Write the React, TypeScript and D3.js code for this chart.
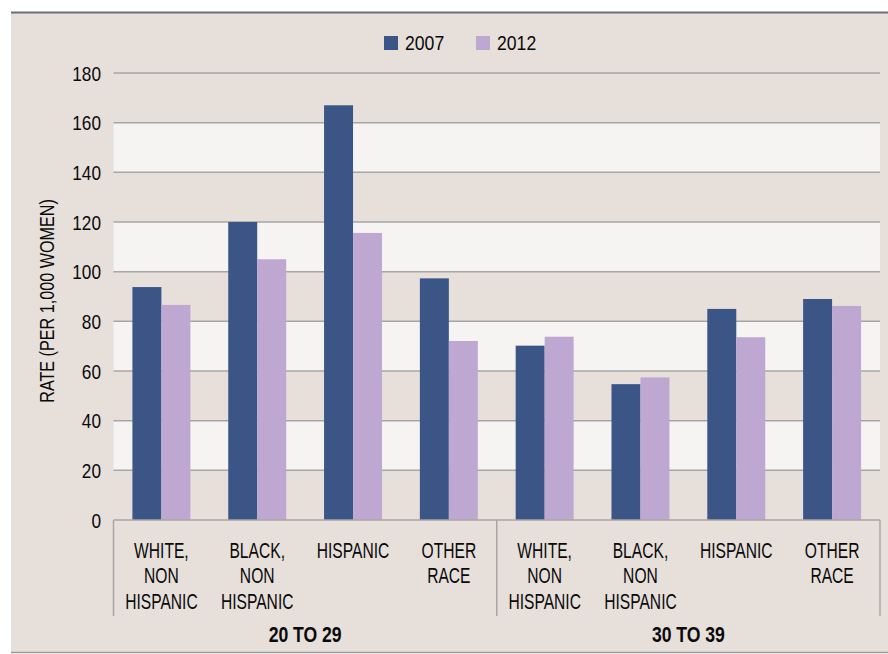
import React from "react";
import * as d3 from "d3";

const groups = ["20 TO 29", "30 TO 39"];
const races = [
  ["WHITE,", "NON", "HISPANIC"],
  ["BLACK,", "NON", "HISPANIC"],
  ["HISPANIC"],
  ["OTHER", "RACE"],
];
const series = ["2007", "2012"];
const values2007 = [93.8, 120, 167, 97.3, 70.2, 54.7, 85, 89];
const values2012 = [86.6, 105, 115.6, 72.1, 73.8, 57.4, 73.6, 86.2];
const yTicks = [0, 20, 40, 60, 80, 100, 120, 140, 160, 180];

const colors = ["#3b5686", "#bea8d2"];
const FONT = "'Liberation Sans', Arial, sans-serif";

function CText(props: {
  x: number;
  y: number;
  sx: number;
  size: number;
  anchor?: string;
  weight?: string;
  rotate?: number;
  children: React.ReactNode;
}) {
  const { x, y, sx, size, anchor = "start", weight = "normal", rotate = 0, children } = props;
  return (
    <text
      transform={`translate(${x},${y}) rotate(${rotate}) scale(${sx},1)`}
      textAnchor={anchor}
      fontSize={size}
      fontWeight={weight}
      fill="#0a0a0a"
    >
      {children}
    </text>
  );
}

export default function App() {
  const W = 888, H = 654;
  const left = 113.5, right = 880, top = 73, bottom = 520;
  const cats = groups.flatMap((g, gi) => races.map((r, ri) => `${gi}-${ri}`));
  const x = d3.scaleBand<string>().domain(cats).range([left, right]).padding(0);
  const step = x.step();
  const inner = d3.scaleBand<string>().domain(series).range([0, step]).paddingInner(0).paddingOuter(0.653);
  const y = d3.scaleLinear().domain([0, 180]).range([bottom, top]);
  const bands: [number, number][] = [[140, 160], [100, 120], [60, 80], [20, 40]];
  const data = [values2007, values2012];
  const groupX = groups.map((g, gi) => [x(`${gi}-0`)!, x(`${gi}-3`)! + step]);

  return (
    <svg width={W} height={H} style={{ position: "absolute", left: 0, top: 0, display: "block" }} fontFamily={FONT}>
      <rect x={0} y={0} width={W} height={H} fill="#ffffff" />
      <rect x={11} y={12} width={W - 11} height={641} fill="#e6dfda" />
      <line x1={11} x2={W} y1={12.5} y2={12.5} stroke="#6b6e75" strokeWidth={2} />
      <line x1={11} x2={W} y1={652.5} y2={652.5} stroke="#9a9a9a" strokeWidth={1.5} />

      {bands.map(([a, b], i) => (
        <rect key={i} x={left} y={y(b)} width={right - left} height={y(a) - y(b)} fill="#f5f4f2" />
      ))}
      {yTicks.filter((t) => t > 0).map((t) => (
        <line key={t} x1={left} x2={right} y1={y(t)} y2={y(t)} stroke="#a8a6a4" strokeWidth={1.5} />
      ))}
      {yTicks.map((t) => (
        <CText key={t} x={101} y={y(t) + 7.5} sx={0.84} size={20.5} anchor="end">
          {t}
        </CText>
      ))}

      {data.map((vals, si) =>
        cats.map((c, ci) => (
          <rect
            key={`${si}-${c}`}
            x={x(c)! + inner(series[si])!}
            y={y(vals[ci])}
            width={inner.bandwidth()}
            height={y(0) - y(vals[ci])}
            fill={colors[si]}
          />
        ))
      )}

      <line x1={left} x2={right} y1={bottom} y2={bottom} stroke="#a8a6a4" strokeWidth={1.5} />
      {[left, groupX[0][1], right].map((vx, i) => (
        <line key={i} x1={vx} x2={vx} y1={bottom} y2={616} stroke="#a8a6a4" strokeWidth={1.5} />
      ))}

      {cats.map((c, ci) =>
        races[ci % 4].map((l, li) => (
          <CText key={`${c}-${li}`} x={x(c)! + step / 2} y={557.5 + li * 25.5} sx={0.71} size={22} anchor="middle">
            {l}
          </CText>
        ))
      )}
      {groups.map((g, gi) => (
        <CText key={g} x={(groupX[gi][0] + groupX[gi][1]) / 2} y={641.5} sx={0.8} size={22} anchor="middle" weight="bold">
          {g}
        </CText>
      ))}

      <CText x={54} y={301} sx={0.77} size={21} anchor="middle" rotate={-90}>
        RATE (PER 1,000 WOMEN)
      </CText>

      {series.map((s, si) => {
        const lx = si === 0 ? 384 : 476;
        return (
          <g key={s}>
            <rect x={lx} y={36} width={14} height={14} fill={colors[si]} />
            <CText x={lx + 21} y={49.5} sx={0.86} size={20.5}>
              {s}
            </CText>
          </g>
        );
      })}
    </svg>
  );
}
